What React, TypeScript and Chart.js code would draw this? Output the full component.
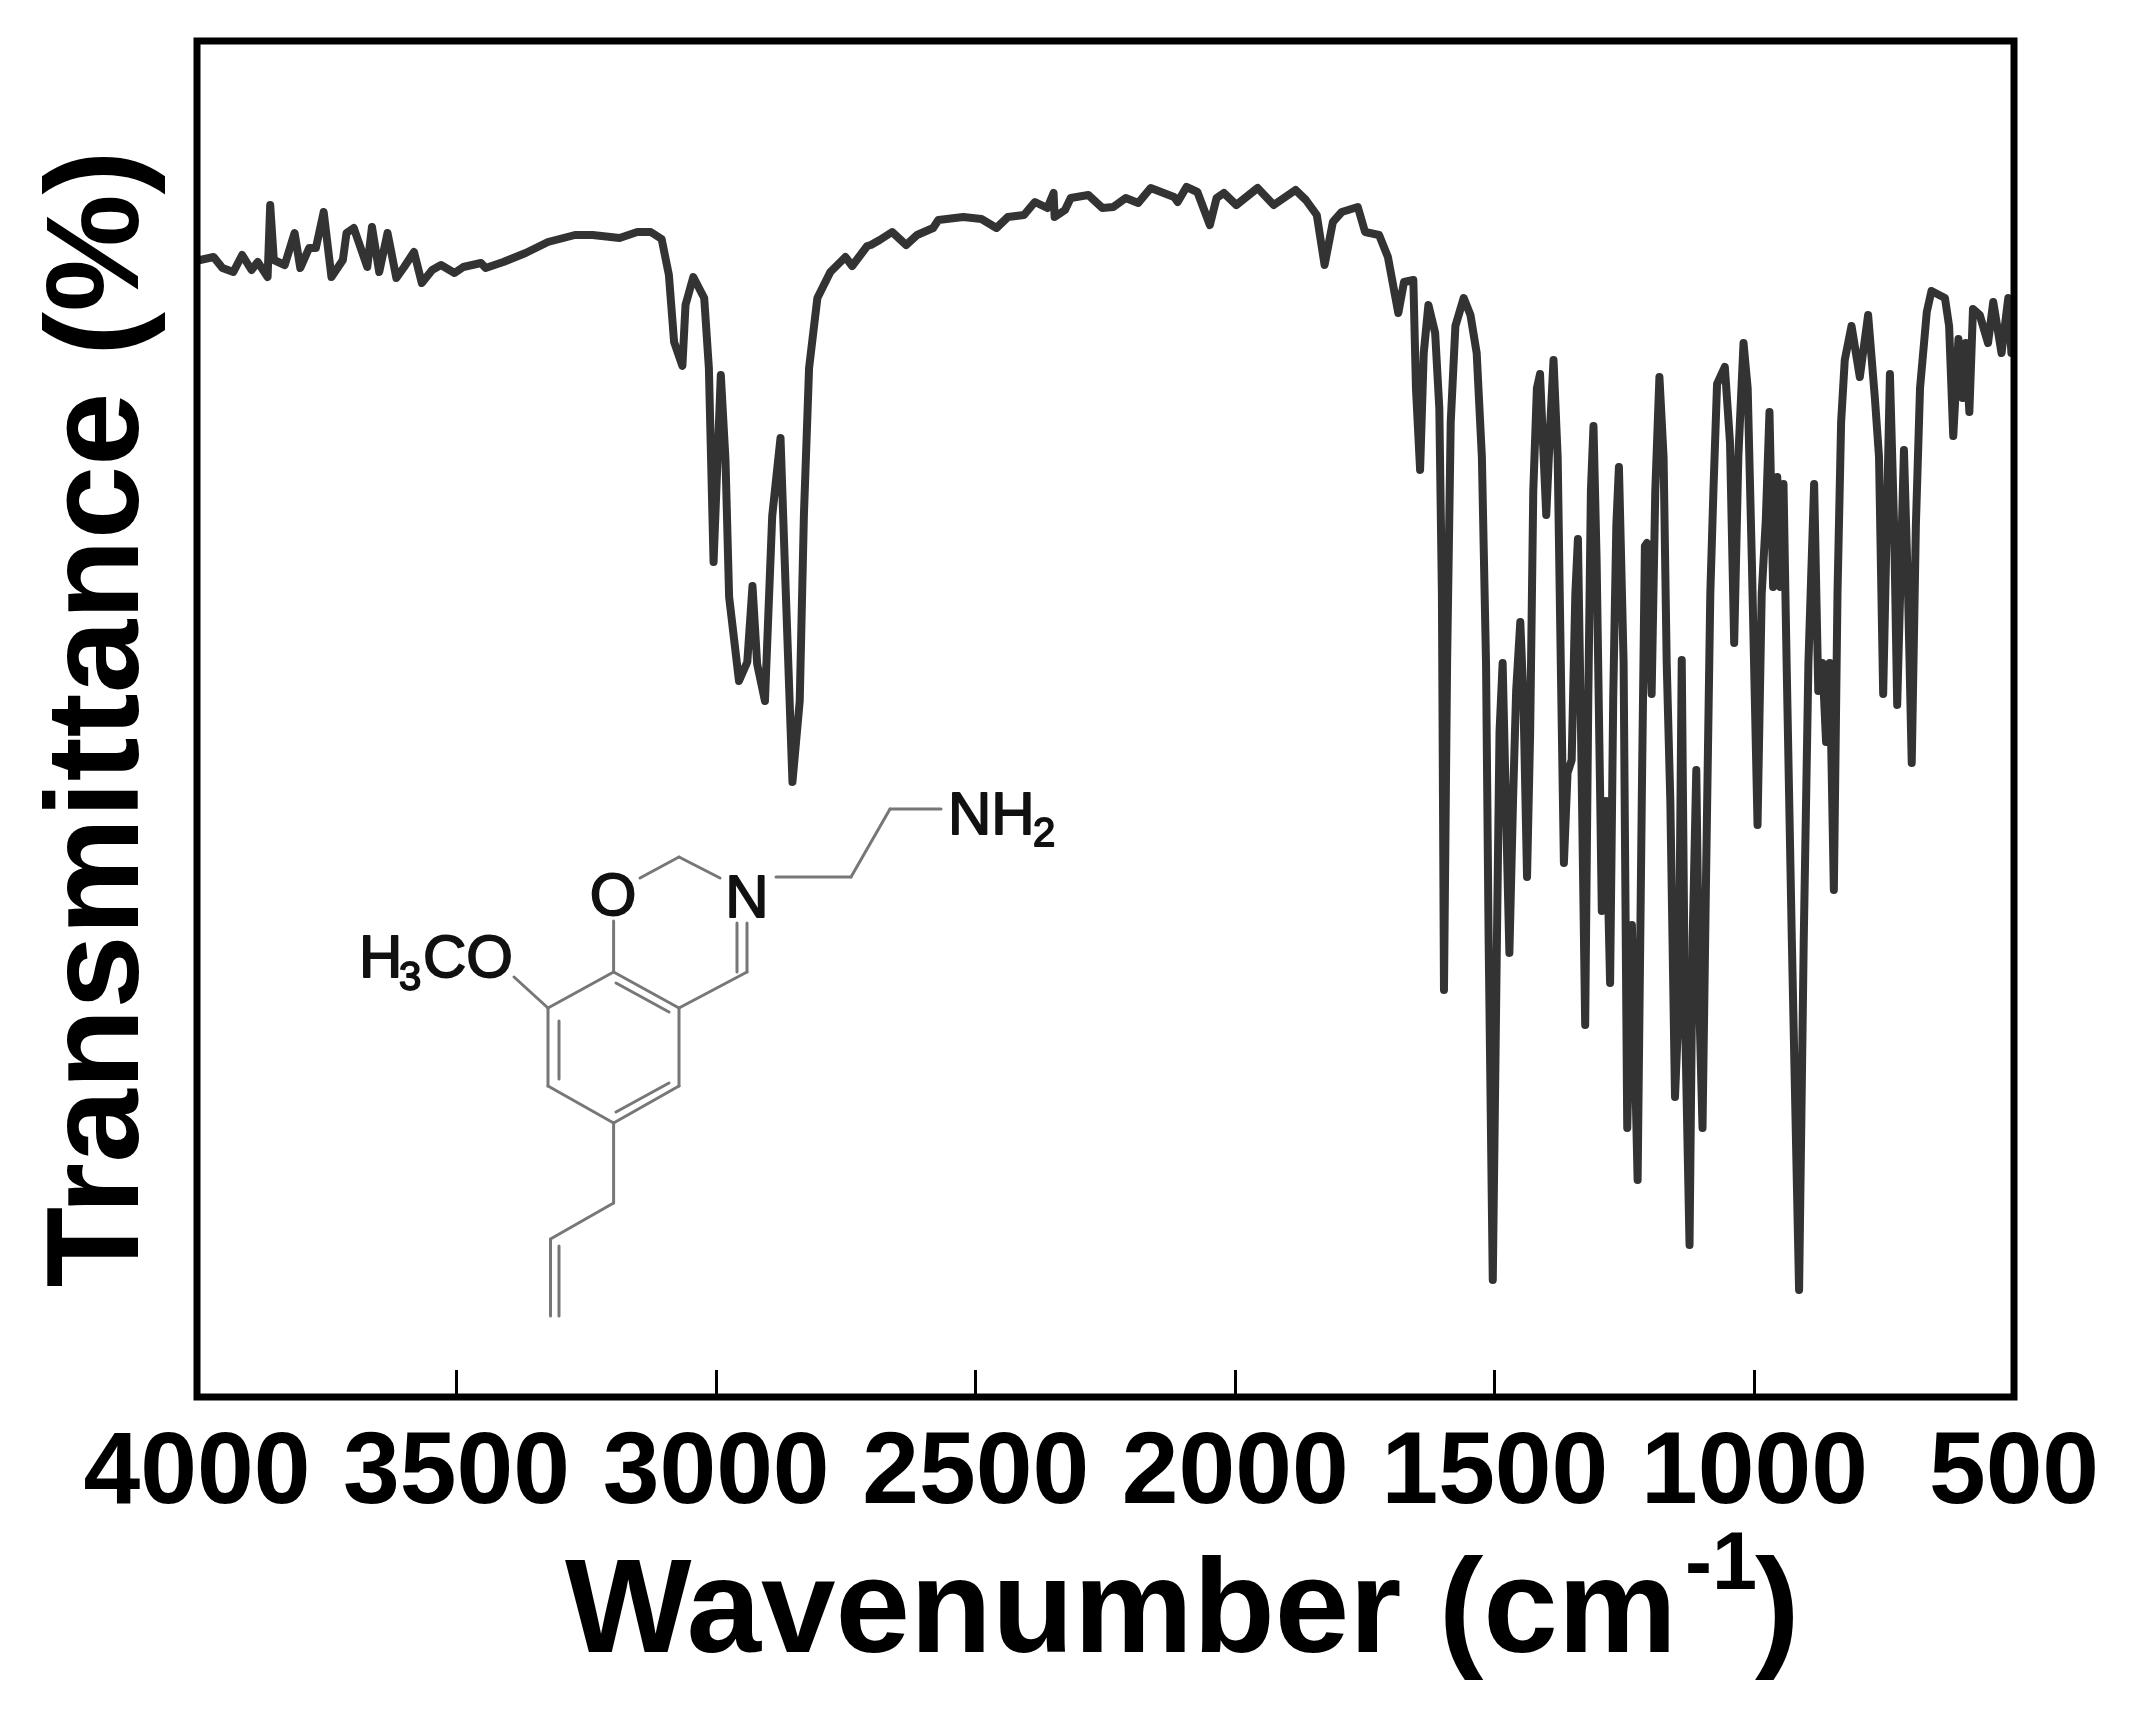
import React, { useEffect, useRef } from "react";
import { Chart, registerables } from "chart.js";

Chart.register(...registerables);

const wavenumbers = [
  4000, 3994, 3968, 3951, 3930, 3913, 3895, 3883, 3864, 3859, 3852, 3831, 3812, 3801, 3784, 3771, 3756, 3741, 3719, 3712,
  3698, 3672, 3663, 3649, 3633, 3616, 3601, 3582, 3567, 3547, 3530, 3504, 3487, 3453, 3444, 3410, 3367, 3324, 3272, 3238,
  3186, 3152, 3126, 3105, 3091, 3081, 3065, 3059, 3044, 3023, 3014, 3005, 2991, 2982, 2975, 2956, 2940, 2930, 2921, 2906,
  2892, 2876, 2866, 2853, 2839, 2831, 2821, 2805, 2780, 2751, 2738, 2709, 2702, 2685, 2661, 2634, 2613, 2582, 2572, 2524,
  2489, 2460, 2438, 2407, 2386, 2362, 2350, 2348, 2328, 2317, 2283, 2256, 2235, 2211, 2187, 2163, 2118, 2111, 2094, 2073,
  2049, 2036, 2022, 1998, 1957, 1926, 1884, 1864, 1843, 1828, 1812, 1795, 1764, 1750, 1723, 1706, 1686, 1675, 1657, 1652,
  1644, 1637, 1628, 1615, 1607, 1602, 1598, 1592, 1585, 1576, 1560, 1547, 1535, 1525, 1517, 1512, 1504, 1496, 1491, 1485,
  1478, 1472, 1465, 1459, 1451, 1445, 1438, 1432, 1426, 1419, 1413, 1406, 1401, 1393, 1387, 1379, 1373, 1367, 1360, 1352,
  1345, 1340, 1334, 1326, 1320, 1315, 1310, 1304, 1297, 1294, 1286, 1278, 1272, 1266, 1261, 1252, 1245, 1236, 1225, 1217,
  1211, 1207, 1198, 1191, 1183, 1175, 1169, 1162, 1153, 1146, 1140, 1134, 1125, 1119, 1112, 1106, 1100, 1093, 1085, 1079,
  1072, 1057, 1047, 1039, 1031, 1021, 1013, 1005, 994, 986, 978, 971, 964, 956, 950, 944, 938, 928, 914, 905,
  896, 885, 877, 869, 862, 855, 847, 840, 833, 826, 813, 797, 781, 768, 760, 752, 739, 731, 725, 712,
  704, 697, 689, 681, 668, 659, 633, 625, 617, 607, 599, 593, 586, 579, 566, 550, 540, 524, 511, 505, 500,
];

const transmittance = [
  113.7, 113.7, 114.0, 112.9, 112.5, 114.2, 112.7, 113.5, 112.0, 119.2, 113.7, 113.2, 116.4, 112.9, 114.9, 114.9, 118.5, 112.0, 113.7, 116.4,
  116.9, 113.0, 117.0, 112.5, 116.4, 111.9, 113.0, 114.5, 111.4, 112.7, 113.2, 112.4, 113.0, 113.4, 112.9, 113.5, 114.4, 115.5, 116.2, 116.2,
  115.9, 116.5, 116.5, 115.8, 112.2, 105.5, 103.1, 109.2, 112.0, 109.9, 102.9, 83.5, 102.2, 93.7, 80.0, 71.6, 73.5, 81.1, 73.3, 69.6,
  88.1, 95.9, 80.7, 61.5, 69.6, 88.1, 102.9, 109.9, 112.5, 114.0, 113.1, 115.1, 115.2, 115.7, 116.5, 115.2, 116.2, 116.9, 117.7, 118.0,
  117.8, 116.9, 118.0, 118.2, 119.5, 118.9, 120.4, 118.0, 118.7, 119.9, 120.2, 118.9, 119.0, 119.9, 119.4, 120.9, 120.0, 119.5, 121.0, 120.5,
  117.2, 119.9, 120.4, 119.2, 120.9, 119.2, 120.7, 119.7, 118.2, 113.2, 117.5, 118.5, 119.0, 116.5, 116.2, 114.0, 108.4, 111.5, 111.7, 100.9,
  92.7, 104.4, 109.2, 106.4, 98.9, 80.3, 40.7, 73.4, 97.5, 107.1, 109.9, 108.2, 104.4, 94.0, 73.4, 45.8, 11.7, 45.8, 66.5, 73.4,
  57.5, 44.4, 59.6, 70.6, 77.5, 69.9, 52.0, 66.5, 90.6, 100.9, 102.3, 94.0, 88.2, 97.5, 103.7, 94.0, 73.4, 53.4, 62.4, 63.7,
  80.3, 85.8, 66.5, 37.2, 69.9, 90.6, 97.1, 83.7, 59.6, 48.6, 59.6, 41.4, 69.9, 87.2, 93.0, 73.4, 26.9, 47.2, 21.7, 59.6,
  85.1, 85.4, 70.3, 90.6, 102.0, 94.0, 73.4, 59.6, 30.0, 38.9, 73.7, 38.9, 15.2, 45.8, 62.7, 38.9, 26.9, 52.7, 80.3, 90.6,
  101.3, 103.0, 95.4, 75.4, 94.0, 105.4, 100.9, 83.7, 57.2, 80.3, 87.8, 98.5, 81.0, 92.0, 81.0, 91.3, 73.4, 45.8, 10.7, 45.8,
  73.4, 91.3, 70.6, 73.4, 65.5, 73.4, 50.7, 80.3, 97.5, 103.7, 107.1, 102.0, 108.2, 99.9, 94.0, 70.3, 102.3, 87.2, 69.2, 94.7,
  80.3, 63.4, 87.2, 100.9, 108.5, 110.6, 109.9, 107.1, 96.1, 105.8, 99.9, 105.4, 98.5, 108.8, 108.2, 105.4, 109.5, 104.4, 109.9, 104.4, 107.8,
];

const yTitle = "Transmittance (%)";
const xTitleRuns: [string, number, number, number][] = [
  ["Wavenumber (cm", 565, 1652, 134],
  ["-1", 1685, 1589, 81],
  [")", 1755, 1652, 134],
];

// Structure inset, drawn as an annotation on the canvas.
const moleculeBonds = [
  [941, 809, 890, 809], [890, 809, 851, 877], [851, 877, 776, 877],
  [640, 878, 679, 857], [679, 857, 720, 878],
  [613.6, 921, 613.6, 972],
  [737, 923, 737, 972], [747, 923, 747, 972], [747, 972, 679, 1008],
  [613.6, 972, 679, 1008], [679, 1008, 679, 1086], [679, 1086, 613.6, 1123],
  [613.6, 1123, 548, 1086], [548, 1086, 548, 1008], [548, 1008, 613.6, 972],
  [616, 983, 669, 1012], [669, 1083, 616, 1112], [559, 1021, 559, 1079],
  [548, 1008, 514, 977],
  [613.6, 1123, 613.6, 1203], [613.6, 1203, 550.5, 1239], [550.5, 1239, 550.5, 1316], [559, 1246, 559, 1316],
];
const moleculeLabels: [string, number, number, number, CanvasTextAlign][] = [
  ["NH", 948, 834, 60, "left"], ["2", 1033, 846, 40, "left"],
  ["N", 747, 917, 60, "center"], ["O", 613, 915, 60, "center"],
  ["H", 359, 977, 60, "left"], ["3", 399, 990, 40, "left"], ["CO", 423, 977, 60, "left"],
];

const framePlugin = {
  id: "frameAndInset",
  afterDatasetsDraw(chart: any) {
    const { ctx, chartArea: a } = chart;
    ctx.save();
    ctx.strokeStyle = "#000";
    ctx.lineWidth = 7;
    ctx.lineJoin = "miter";
    ctx.strokeRect(a.left, a.top, a.right - a.left, a.bottom - a.top);
    ctx.strokeStyle = "#777";
    ctx.lineWidth = 3;
    ctx.lineCap = "round";
    moleculeBonds.forEach(([x1, y1, x2, y2]) => {
      ctx.beginPath();
      ctx.moveTo(x1, y1);
      ctx.lineTo(x2, y2);
      ctx.stroke();
    });
    ctx.fillStyle = "#111";
    ctx.strokeStyle = "#111";
    ctx.lineWidth = 1.8;
    ctx.lineJoin = "round";
    ctx.textBaseline = "alphabetic";
    moleculeLabels.forEach(([t, x, y, s, al]) => {
      ctx.font = `${s}px "Liberation Sans"`;
      ctx.textAlign = al;
      ctx.fillText(t, x, y);
      ctx.strokeText(t, x, y);
    });
    ctx.fillStyle = "#000";
    ctx.textAlign = "left";
    xTitleRuns.forEach(([t, x, y, s]) => {
      ctx.font = `bold ${s}px "Liberation Sans"`;
      ctx.fillText(t, x, y);
    });
    ctx.restore();
  },
};

export default function App() {
  const ref = useRef<HTMLCanvasElement>(null);
  useEffect(() => {
    const chart = new Chart(ref.current!, {
      type: "scatter",
      data: {
        datasets: [
          {
            label: "FTIR",
            data: wavenumbers.map((x, i) => ({ x, y: transmittance[i] })),
            showLine: true,
            borderColor: "#333333",
            borderWidth: 8,
            borderJoinStyle: "round",
            pointRadius: 0,
            tension: 0,
          },
        ],
      },
      options: {
        responsive: false,
        animation: false,
        layout: { padding: { top: 41, right: 120, left: 0, bottom: 0 } },
        plugins: { legend: { display: false }, tooltip: { enabled: false } },
        scales: {
          x: {
            type: "linear",
            reverse: true,
            min: 500,
            max: 4000,
            afterFit: (s: any) => { s.height = 323; s.paddingLeft = 0; s.paddingRight = 0; },
            border: { display: false },
            grid: { drawOnChartArea: false, drawTicks: true, tickLength: -27, tickWidth: 3, tickColor: "#000" },
            ticks: {
              stepSize: 500,
              autoSkip: false,
              maxRotation: 0,
              padding: 44,
              color: "#000",
              font: { family: "Liberation Sans", size: 102, weight: "bold" },
              callback: (v: any) => String(v),
            },
          },
          y: {
            min: 0,
            max: 135.6,
            afterFit: (s: any) => { s.width = 197; },
            border: { display: false },
            grid: { display: false },
            ticks: { display: false },
            title: {
              display: true,
              text: yTitle,
              color: "#000",
              padding: { top: 22, bottom: 0 },
              font: { family: "Liberation Sans", size: 132, weight: "bold" },
            },
          },
        },
      },
      plugins: [framePlugin],
    } as any);
    return () => chart.destroy();
  }, []);
  return (
    <div style={{ position: "absolute", left: 0, top: 0, width: 2134, height: 1720, background: "#fff" }}>
      <canvas ref={ref} width={2134} height={1720} style={{ display: "block", width: 2134, height: 1720 }} />
    </div>
  );
}
